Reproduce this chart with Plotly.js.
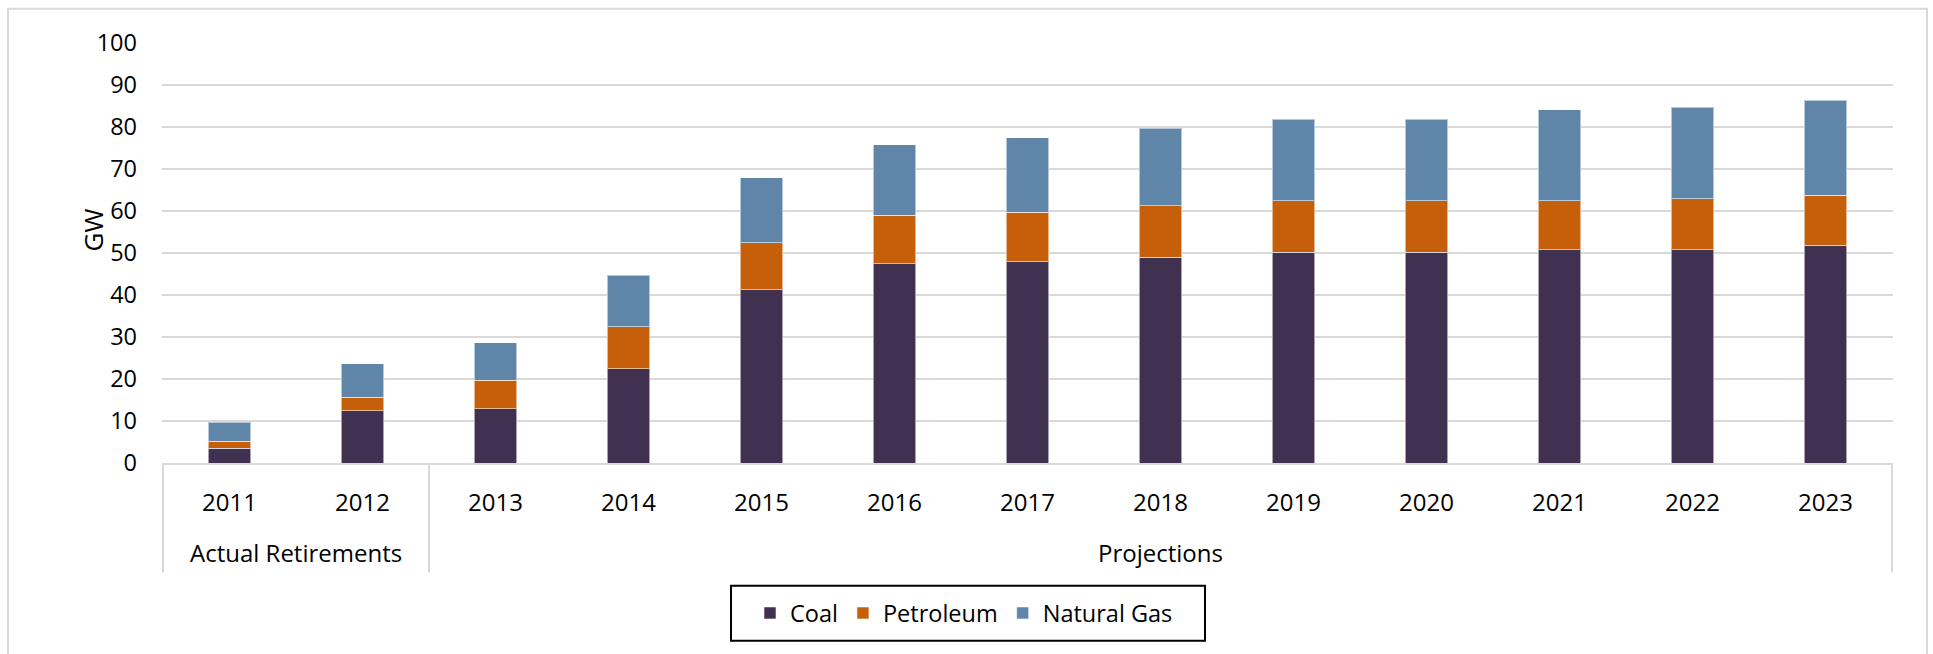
<!DOCTYPE html>
<html>
<head>
<meta charset="utf-8">
<script src="https://cdn.plot.ly/plotly-3.0.1.min.js"></script>
<style>
  html, body { margin: 0; padding: 0; background: #ffffff; overflow: hidden; }
  #chart { width: 1933px; height: 654px; }
</style>
</head>
<body>
<div id="chart"></div>
<script>
// ---- Data (GW retired) ----
const years = ['2011','2012','2013','2014','2015','2016','2017','2018','2019','2020','2021','2022','2023'];
const groupOfYear = ['Actual Retirements','Actual Retirements','Projections','Projections','Projections','Projections','Projections','Projections','Projections','Projections','Projections','Projections','Projections'];
const coal      = [3.5, 12.4, 12.9, 22.5, 41.2, 47.4, 47.9, 49.0, 50.2, 50.2, 50.8, 50.8, 51.9];
const petroleum = [1.7, 3.3, 6.8, 10.0, 11.2, 11.6, 11.8, 12.3, 12.2, 12.2, 11.6, 12.1, 11.8];
const naturalGas= [4.5, 7.9, 8.9, 12.2, 15.5, 16.8, 17.8, 18.4, 19.5, 19.5, 21.7, 21.8, 22.7];
const seriesNames = ['Coal', 'Petroleum', 'Natural Gas'];
const yTickVals = [0,10,20,30,40,50,60,70,80,90,100];

// ---- Geometry / styling ----
const W = 1933, H = 654;
const M = { l: 162, r: 40, t: 43, b: 191 };
const PW = W - M.l - M.r, PH = H - M.t - M.b;
const pxX = px => (px - M.l) / PW;          // page px -> paper x
const pxY = py => (H - M.b - py) / PH;      // page px -> paper y
const FONT = '"Open Sans", "Noto Sans", sans-serif';
const colors = ['#413151', '#C65F0A', '#5F85A9'];
const grid = '#D9D9D9';

const values = [coal, petroleum, naturalGas];
const traces = values.map((v, i) => ({
  type: 'bar',
  name: seriesNames[i],
  x: years,
  y: v,
  marker: { color: colors[i], line: { color: 'rgba(255,255,255,0.55)', width: 1 } },
  hoverinfo: 'x+y+name'
}));

// group labels and dividers derived from groupOfYear
const groups = [];
groupOfYear.forEach((g, i) => {
  if (!groups.length || groups[groups.length - 1].name !== g) groups.push({ name: g, start: i, end: i });
  else groups[groups.length - 1].end = i;
});
const divBottom = pxY(572.5);
const shapes = [];
const boundaries = [groups[0].start - 0.5].concat(groups.map(g => g.end + 0.5));
boundaries.forEach(b => shapes.push({
  type: 'line', xref: 'x', yref: 'paper', x0: b, x1: b, y0: 0, y1: divBottom,
  line: { color: grid, width: 2 }
}));
// outer chart frame
shapes.push({
  type: 'rect', xref: 'paper', yref: 'paper',
  x0: pxX(8), x1: pxX(1927), y0: pxY(720), y1: pxY(8.7),
  line: { color: grid, width: 2 }, fillcolor: 'rgba(0,0,0,0)', layer: 'below'
});
// legend frame
shapes.push({
  type: 'rect', xref: 'paper', yref: 'paper',
  x0: pxX(731), x1: pxX(1205), y0: pxY(640.7), y1: pxY(585.7),
  line: { color: '#000000', width: 2 }, fillcolor: 'rgba(0,0,0,0)'
});

const annotations = groups.map(g => ({
  xref: 'x', yref: 'paper', x: (g.start + g.end) / 2, y: pxY(552),
  text: g.name, showarrow: false, xanchor: 'center', yanchor: 'middle',
  font: { family: FONT, size: 24, color: '#000000' }
}));
annotations.push({
  xref: 'paper', yref: 'paper', x: pxX(92.5), y: pxY(230),
  text: 'GW', textangle: -90, showarrow: false, xanchor: 'center', yanchor: 'middle',
  font: { family: FONT, size: 26, color: '#000000' }
});

const layout = {
  width: W, height: H,
  margin: M,
  paper_bgcolor: '#ffffff', plot_bgcolor: '#ffffff',
  barmode: 'stack',
  bargap: 0.684,
  font: { family: FONT, color: '#000000' },
  xaxis: {
    type: 'category',
    showgrid: false, zeroline: false,
    showline: true, linecolor: grid, linewidth: 2,
    ticks: '', ticklabelstandoff: 17,
    tickfont: { family: FONT, size: 24, color: '#000000' },
    fixedrange: true
  },
  yaxis: {
    range: [0, 100],
    tickvals: yTickVals,
    ticktext: yTickVals.map(String),
    showgrid: true, gridcolor: grid, gridwidth: 2,
    zeroline: false, showline: false,
    ticks: '', ticklabelstandoff: 24,
    tickfont: { family: FONT, size: 23.5, color: '#000000' },
    fixedrange: true
  },
  showlegend: true,
  legend: {
    orientation: 'h', traceorder: 'normal',
    x: pxX(964), xanchor: 'center',
    y: pxY(613.2), yanchor: 'middle',
    bgcolor: 'rgba(0,0,0,0)', borderwidth: 0,
    font: { family: FONT, size: 23.5, color: '#000000' }
  },
  shapes: shapes,
  annotations: annotations
};

Plotly.newPlot('chart', traces, layout, { displayModeBar: false, staticPlot: true });
</script>
</body>
</html>
